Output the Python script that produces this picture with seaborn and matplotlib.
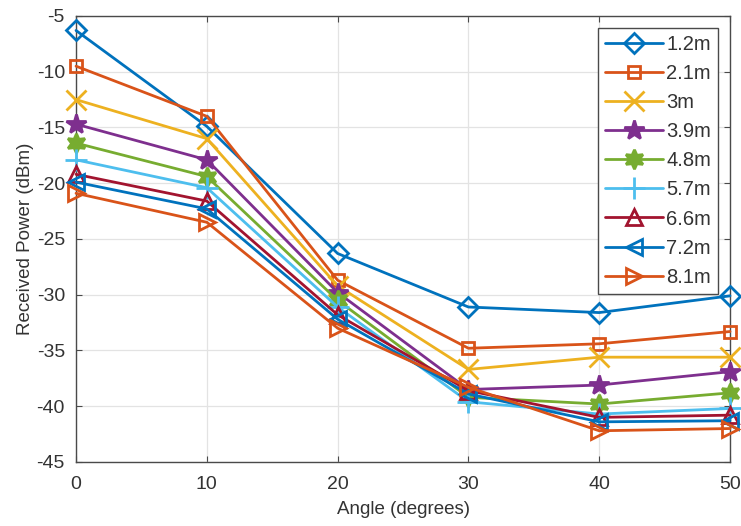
import matplotlib
matplotlib.use("Agg")
import matplotlib.pyplot as plt
import seaborn as sns
import pandas as pd

# Measured received power versus receiver angle, for several distances
angles = [0, 10, 20, 30, 40, 50]
distances = ["1.2m", "2.1m", "3m", "3.9m", "4.8m", "5.7m", "6.6m", "7.2m", "8.1m"]

p_1_2 = [-6.3, -14.9, -26.3, -31.1, -31.6, -30.1]
p_2_1 = [-9.5, -14.0, -28.7, -34.8, -34.4, -33.3]
p_3_0 = [-12.5, -16.0, -29.2, -36.7, -35.6, -35.6]
p_3_9 = [-14.7, -17.9, -29.8, -38.5, -38.1, -36.9]
p_4_8 = [-16.4, -19.4, -30.5, -39.2, -39.8, -38.8]
p_5_7 = [-17.9, -20.4, -31.1, -39.6, -40.7, -40.2]
p_6_6 = [-19.2, -21.6, -31.8, -38.6, -41.0, -40.8]
p_7_2 = [-19.9, -22.3, -32.2, -38.9, -41.4, -41.3]
p_8_1 = [-20.9, -23.5, -33.0, -38.3, -42.2, -42.0]

powers = [p_1_2, p_2_1, p_3_0, p_3_9, p_4_8, p_5_7, p_6_6, p_7_2, p_8_1]

colors = ["#0072BD", "#D95319", "#EDB120", "#7E2F8E", "#77AC30",
          "#4DBEEE", "#A2142F", "#0072BD", "#D95319"]
markers = ["D", "s", "x", "*", (6, 1, 0), "+", "^", "<", ">"]
msizes = [10, 9, 14, 15, 14, 16, 11, 11, 11]
filled = [False, False, False, True, True, False, False, False, False]

rows = []
for d, vals in zip(distances, powers):
    for a, v in zip(angles, vals):
        rows.append({"Angle": a, "Power": v, "Distance": d})
df = pd.DataFrame(rows)

sns.set_style("white")
plt.rcParams["font.family"] = ["Liberation Sans", "DejaVu Sans"]
plt.rcParams["axes.unicode_minus"] = False

fig = plt.figure(figsize=(7.41, 5.26), dpi=100)
ax = fig.add_axes([0.1026, 0.1217, 0.8826, 0.8479])

for d, c, m, ms, f in zip(distances, colors, markers, msizes, filled):
    sub = df[df["Distance"] == d]
    sns.lineplot(data=sub, x="Angle", y="Power", ax=ax, color=c, marker=m,
                 markersize=ms, markeredgewidth=2.0, linewidth=2.0,
                 markerfacecolor=(c if f else "none"), markeredgecolor=c,
                 label=d, clip_on=False, zorder=3)

ax.set_xlim(0, 50)
ax.set_ylim(-45, -5)
ax.set_xticks(angles)
ax.set_yticks(range(-45, 0, 5))
ax.grid(True, color="#e3e3e3", linewidth=0.9)
ax.set_axisbelow(True)
for s in ax.spines.values():
    s.set_color("#4a4a4a")
    s.set_linewidth(1.0)
ax.tick_params(direction="in", length=4, width=0.8, colors="#4a4a4a",
               labelcolor="#333333", labelsize=14, top=True, right=True,
               left=True, bottom=True)
ax.tick_params(axis="x", pad=10)
ax.tick_params(axis="y", pad=8)
ax.set_xlabel("Angle (degrees)", fontsize=13.5, color="#333333", labelpad=6)
ax.set_ylabel("Received Power (dBm)", fontsize=13.5, color="#333333", labelpad=2)

leg = ax.legend(loc="upper right", fontsize=14.5, frameon=True, fancybox=False,
                edgecolor="#4a4a4a", framealpha=1, handlelength=2.9,
                labelspacing=0.5, borderaxespad=0.6, handletextpad=0.15,
                borderpad=0.35)
leg.get_frame().set_linewidth(1.0)
for t in leg.get_texts():
    t.set_color("#333333")

fig.savefig("out.png", dpi=100, facecolor="white")
